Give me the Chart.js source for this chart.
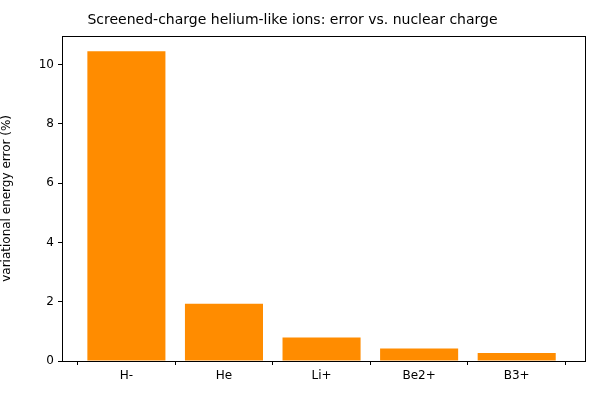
<!DOCTYPE html>
<html><head><meta charset="utf-8">
<script src="https://cdn.jsdelivr.net/npm/chart.js@4"></script>
<style>html,body{margin:0;padding:0;background:#fff}#c{width:600px;height:400px}</style>
</head><body>
<div id="c"><canvas id="cv" width="600" height="400"></canvas></div>
<script>
const categories = ["H-", "He", "Li+", "Be2+", "B3+"];
const errors = [10.45, 1.93, 0.79, 0.42, 0.27];
const yTicks = [0, 2, 4, 6, 8, 10];

const frame = {
  id: 'frame',
  afterDraw(chart) {
    const a = chart.chartArea, ctx = chart.ctx;
    ctx.save(); ctx.strokeStyle = '#000'; ctx.lineWidth = 1;
    ctx.strokeRect(Math.round(a.left)+0.5, Math.round(a.top)+0.5, Math.round(a.right-a.left), Math.round(a.bottom-a.top));
    ctx.restore();
  }
};

new Chart(document.getElementById('cv'), {
  type: 'bar',
  data: { datasets: [{ data: categories.map((c, i) => ({ x: i, y: errors[i] })), backgroundColor: '#ff8c00', barPercentage: 0.8, categoryPercentage: 1.0 }] },
  options: {
    responsive: false, animation: false, devicePixelRatio: 1,
    layout: { padding: { left: 0, right: 15, top: 0, bottom: 0 } },
    plugins: {
      legend: { display: false }, tooltip: { enabled: false },
      title: { display: true, text: 'Screened-charge helium-like ions: error vs. nuclear charge', color: '#000', font: { family: 'DejaVu Sans', size: 14, weight: 'normal' }, padding: { top: 12, bottom: 7 } }
    },
    scales: {
      x: {
        type: 'linear', min: -0.66, max: 4.7, offset: false,
        afterBuildTicks(s) { s.ticks = categories.map((c, i) => ({ value: i })); },
        afterFit(s) { s.height = 39; },
        ticks: { color: '#000', font: { family: 'DejaVu Sans', size: 12 }, padding: 4, maxRotation: 0, autoSkip: false, callback: v => categories[v] },
        grid: { drawOnChartArea: false, tickLength: 4, color: '#000' },
        border: { display: false }
      },
      y: {
        min: 0, max: 10.97,
        afterBuildTicks(s) { s.ticks = yTicks.map(v => ({ value: v })); },
        afterFit(s) { s.width = 62; },
        ticks: { color: '#000', font: { family: 'DejaVu Sans', size: 12 }, padding: 4 },
        grid: { drawOnChartArea: false, tickLength: 4, color: '#000' },
        border: { display: false },
        title: { display: true, text: 'variational energy error (%)', color: '#000', font: { family: 'DejaVu Sans', size: 12 }, padding: { top: 0, bottom: 2 } }
      }
    }
  },
  plugins: [frame]
});
</script>
</body></html>
